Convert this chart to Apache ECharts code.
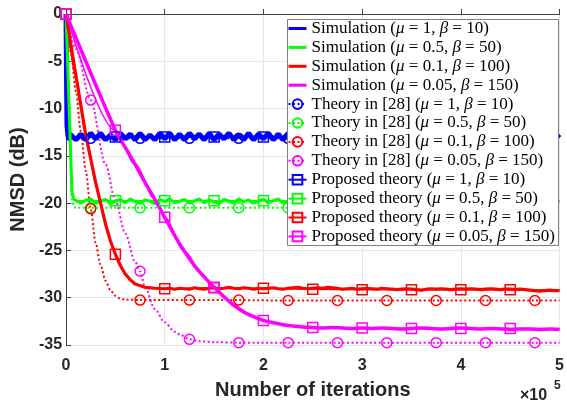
<!DOCTYPE html>
<html>
<head>
    <meta charset="utf-8">
    <title>NMSD</title>
    <script src="https://cdn.jsdelivr.net/npm/echarts@6/dist/echarts.min.js"></script>
    <style>
        html, body { margin: 0; padding: 0; background: #fff; }
    </style>
</head>
<body>
<div id="main" style="width: 567px;height:405px;"></div>
<script type="text/javascript">
    // axis ticks (x in units of 1e5 iterations)
    var xTicks = [0, 1, 2, 3, 4, 5];
    var yTicks = [-35, -30, -25, -20, -15, -10, -5, 0];

    // marker positions
    var circleX = [0.25, 0.75, 1.25, 1.75, 2.25, 2.75, 3.25, 3.75, 4.25, 4.75];
    var squareX = [0, 0.5, 1, 1.5, 2, 2.5, 3, 3.5, 4, 4.5];

    var names = [
        'Simulation (μ = 1, β = 10)',
        'Simulation (μ = 0.5, β = 50)',
        'Simulation (μ = 0.1, β = 100)',
        'Simulation (μ = 0.05, β = 150)',
        'Theory in [28] (μ = 1, β = 10)',
        'Theory in [28] (μ = 0.5, β = 50)',
        'Theory in [28] (μ = 0.1, β = 100)',
        'Theory in [28] (μ = 0.05, β = 150)',
        'Proposed theory (μ = 1, β = 10)',
        'Proposed theory (μ = 0.5, β = 50)',
        'Proposed theory (μ = 0.1, β = 100)',
        'Proposed theory (μ = 0.05, β = 150)'
    ];
    var colors = ['#0000ff', '#00ff00', '#ff0000', '#ff00ff'];

    // simulation curves: transient points, then a noisy tail sampled every 0.05
    var tailStep = 0.05;
    var blueSimHead = [[0, 0], [0.005, -6.5], [0.01, -11.8], [0.02, -12.9], [0.03, -13.3], [0.04, -12.7]];
    var blueSimTailStart = 0.05;
    var blueSimTail = [
        -12.6, -13.3, -12.7, -13.3, -12.6, -13.2, -12.6, -13.3, -12.8, -13.3,
        -12.6, -13.2, -12.7, -13.3, -12.6, -13.3, -12.8, -13.3, -12.6, -13.2,
        -12.6, -13.3, -12.7, -13.3, -12.6, -13.2, -12.7, -13.3, -12.6, -13.3,
        -12.7, -13.2, -12.6, -13.3, -12.8, -13.3, -12.6, -13.3, -12.7, -13.2,
        -12.6, -13.3, -12.7, -13.3, -12.6, -13.2, -12.7, -13.3, -12.6, -13.3,
        -12.7, -13.2, -12.6, -13.3, -12.7, -13.3, -12.6, -13.3, -12.7, -13.2,
        -12.6, -13.3, -12.7, -13.3, -12.6, -13.2, -12.8, -13.3, -12.6, -13.3,
        -12.7, -13.2, -12.6, -13.3, -12.7, -13.3, -12.6, -13.2, -12.7, -13.3,
        -12.6, -13.3, -12.7, -13.2, -12.6, -13.3, -12.6, -13.3, -12.7, -13.2,
        -12.6, -13.3, -12.7, -13.3, -12.6, -13.2, -12.7, -13.3, -12.6, -13.1
    ];
    var greenSimHead = [[0, 0], [0.02, -6.3], [0.04, -12.5], [0.06, -18.8], [0.08, -19.6]];
    var greenSimTailStart = 0.1;
    var greenSimTail = [
        -19.6, -20.0, -19.7, -19.55, -20.0, -19.8, -19.6, -20.05, -19.8, -19.6,
        -19.95, -19.55, -19.85, -20.0, -19.65, -19.8, -20.05, -19.6, -19.85, -19.55,
        -19.95, -19.8, -19.6, -20.0, -19.75, -19.55, -19.95, -19.65, -19.85, -20.05,
        -19.6, -19.8, -20.0, -19.55, -19.85, -19.65, -20.0, -19.75, -19.6, -19.95,
        -19.75, -19.55, -20.0, -19.8, -19.6, -19.95, -19.75, -19.6, -20.0, -19.8,
        -19.6, -19.95, -19.8, -19.55, -20.0, -19.75, -19.6, -19.95, -19.8, -19.65,
        -20.0, -19.75, -19.6, -19.95, -19.8, -19.55, -20.0, -19.8, -19.65, -19.95,
        -19.75, -19.6, -20.0, -19.8, -19.55, -19.95, -19.8, -19.65, -20.0, -19.75,
        -19.6, -19.95, -19.8, -19.65, -20.0, -19.8, -19.55, -19.95, -19.8, -19.65,
        -20.0, -19.8, -19.65, -19.95, -19.8, -19.7, -20.0, -19.8, -19.85
    ];
    var redSimHead = [[0, 0], [0.1, -6.5], [0.2, -12.8], [0.3, -17.8], [0.35, -20.0], [0.4, -22.2],
        [0.45, -24.0], [0.5, -25.4], [0.55, -26.6], [0.6, -27.5], [0.65, -28.1], [0.7, -28.55],
        [0.8, -28.9], [0.9, -29.0], [1.0, -29.05]];
    var redSimTailStart = 1.05;
    var redSimTail = [
        -29.0, -29.1, -29.0, -29.05, -29.1, -28.95, -29.05, -29.1, -29.0, -28.95,
        -29.05, -29.0, -28.9, -29.0, -29.05, -28.95, -29.0, -29.1, -29.0, -29.05,
        -29.0, -28.95, -29.05, -29.1, -29.0, -28.95, -28.9, -29.0, -29.05, -29.0,
        -28.95, -29.0, -28.9, -28.95, -29.0, -29.1, -29.05, -29.0, -29.1, -29.05,
        -29.0, -29.05, -29.1, -29.0, -29.05, -29.1, -29.15, -29.1, -29.05, -29.1,
        -29.15, -29.2, -29.1, -29.05, -29.1, -29.05, -29.1, -29.15, -29.1, -29.05,
        -29.1, -29.05, -29.1, -29.15, -29.1, -29.05, -29.1, -29.15, -29.1, -29.1,
        -29.15, -29.1, -29.15, -29.2, -29.25, -29.3, -29.25, -29.2, -29.25, -29.25
    ];
    var magentaSim = [[0, 0], [0.5, -12.3], [0.6, -14.1], [0.7, -15.9], [0.8, -17.8], [0.9, -19.6],
        [1.0, -21.5], [1.1, -23.4], [1.2, -25.1], [1.3, -26.6], [1.4, -27.8], [1.5, -28.9],
        [1.6, -29.9], [1.7, -30.8], [1.8, -31.5], [1.9, -32.0], [2.0, -32.4], [2.1, -32.65],
        [2.2, -32.85], [2.3, -33.0], [2.4, -33.1], [2.5, -33.15], [2.6, -33.2], [2.7, -33.15],
        [2.8, -33.2], [2.9, -33.25], [3.0, -33.2], [3.1, -33.25], [3.2, -33.2], [3.3, -33.25],
        [3.4, -33.3], [3.5, -33.25], [3.6, -33.2], [3.7, -33.25], [3.8, -33.3], [3.9, -33.25],
        [4.0, -33.2], [4.1, -33.25], [4.2, -33.3], [4.3, -33.25], [4.4, -33.3], [4.5, -33.35],
        [4.6, -33.3], [4.7, -33.3], [4.8, -33.35], [4.9, -33.3], [5.0, -33.35]];

    // theory in [28] (dotted, circles)
    var blueTheory = [[0, 0], [0.01, -12.6], [0.02, -13.15], [0.25, -13.15], [0.75, -13.15], [1.25, -13.15],
        [1.75, -13.15], [2.25, -13.15], [2.75, -13.15], [3.25, -13.15], [3.75, -13.15], [4.25, -13.15],
        [4.75, -13.15], [5, -13.15]];
    var greenTheory = [[0, 0], [0.02, -7], [0.04, -14], [0.06, -19.6], [0.08, -20.4], [0.1, -20.5],
        [0.25, -20.5], [0.75, -20.5], [1.25, -20.5], [1.75, -20.5], [2.25, -20.5], [2.75, -20.5],
        [3.25, -20.5], [3.75, -20.5], [4.25, -20.5], [4.75, -20.5], [5, -20.5]];
    var redTheory = [[0, 0], [0.05, -4.1], [0.1, -8.2], [0.15, -12.4], [0.2, -16.6], [0.25, -20.6],
        [0.3, -24.2], [0.35, -26.5], [0.4, -28.2], [0.45, -29.2], [0.5, -29.8], [0.55, -30.1],
        [0.6, -30.2], [0.75, -30.25], [1.25, -30.25], [1.75, -30.25], [2.25, -30.3], [2.75, -30.3],
        [3.25, -30.3], [3.75, -30.3], [4.25, -30.3], [4.75, -30.3], [5, -30.3]];
    var magentaTheory = [[0, 0], [0.1, -3.7], [0.25, -9.1], [0.4, -15.9], [0.5, -19.7], [0.6, -23.2],
        [0.7, -26.2], [0.75, -27.2], [0.8, -28.9], [0.9, -31.2], [1.0, -32.6], [1.1, -33.6],
        [1.17, -34.0], [1.25, -34.4], [1.35, -34.6], [1.5, -34.7], [1.75, -34.75], [2.25, -34.75],
        [2.75, -34.75], [3.25, -34.75], [3.75, -34.75], [4.25, -34.75], [4.75, -34.75], [5, -34.75]];

    // proposed theory (solid, squares)
    var blueProp = [[0, 0], [0.01, -12.5], [0.02, -13.0], [0.5, -13.0], [1, -13.0], [1.5, -13.0], [2, -13.0],
        [2.5, -13.0], [3, -13.0], [3.5, -13.0], [4, -13.0], [4.5, -13.0], [5, -13.0]];
    var greenProp = [[0, 0], [0.04, -12.5], [0.06, -18.8], [0.08, -19.6], [0.1, -19.75], [0.5, -19.75],
        [1, -19.75], [1.5, -19.75], [2, -19.75], [2.5, -19.75], [3, -19.8], [3.5, -19.8], [4, -19.8],
        [4.5, -19.8], [5, -19.8]];
    var redProp = [[0, 0], [0.1, -6.5], [0.2, -12.8], [0.3, -17.8], [0.35, -20.0], [0.4, -22.2],
        [0.45, -24.0], [0.5, -25.4], [0.6, -27.5], [0.7, -28.55], [0.8, -28.9], [0.9, -29.0],
        [1, -29.05], [1.5, -28.95], [2, -29.0], [2.5, -29.1], [3, -29.15], [3.5, -29.15],
        [4, -29.15], [4.5, -29.15], [5, -29.2]];
    var magentaProp = [[0, 0], [0.5, -12.3], [0.7, -15.9], [0.9, -19.6], [1, -21.5], [1.2, -25.1],
        [1.4, -27.8], [1.5, -28.9], [1.7, -30.8], [1.9, -32.0], [2, -32.4], [2.25, -32.95],
        [2.5, -33.15], [3, -33.2], [3.5, -33.25], [4, -33.25], [4.5, -33.25], [5, -33.3]];

    function withTail(head, start, tail) {
        var pts = head.slice();
        for (var i = 0; i < tail.length; i++) {
            pts.push([start + i * tailStep, tail[i]]);
        }
        return pts;
    }

    // only the points at marker positions get a symbol
    function marked(points, marks) {
        return points.map(function (p) {
            var hit = marks.some(function (m) { return Math.abs(m - p[0]) < 1e-9; });
            return hit ? {value: p} : {value: p, symbol: 'none'};
        });
    }

    var simData = [
        withTail(blueSimHead, blueSimTailStart, blueSimTail),
        withTail(greenSimHead, greenSimTailStart, greenSimTail),
        withTail(redSimHead, redSimTailStart, redSimTail),
        magentaSim
    ];
    var theoryData = [blueTheory, greenTheory, redTheory, magentaTheory];
    var propData = [blueProp, greenProp, redProp, magentaProp];

    // theory curves first, simulation lines drawn over them (legend keeps its own order)
    var series = [];
    for (var k = 0; k < 4; k++) {
        series.push({
            name: names[4 + k], type: 'line', data: marked(theoryData[k], circleX),
            symbol: 'circle', symbolSize: 10, smooth: 0.3, smoothMonotone: 'x',
            itemStyle: {color: 'rgba(0,0,0,0)', borderColor: colors[k], borderWidth: 1.5},
            lineStyle: {color: colors[k], width: 2, type: [2, 2.5]}
        });
    }
    for (var k = 0; k < 4; k++) {
        series.push({
            name: names[8 + k], type: 'line', data: marked(propData[k], squareX),
            symbol: 'rect', symbolSize: 10, smooth: 0.3, smoothMonotone: 'x',
            itemStyle: {color: 'rgba(0,0,0,0)', borderColor: colors[k], borderWidth: 1.5},
            lineStyle: {color: colors[k], width: 1.5}
        });
    }
    var simWidth = [5, 3, 3.2, 3.5];
    for (var k = 0; k < 4; k++) {
        series.push({
            name: names[k], type: 'line', data: simData[k],
            symbol: 'circle', showSymbol: false, smooth: k === 3 ? 0.3 : false,
            itemStyle: {color: 'rgba(0,0,0,0)', borderWidth: 0},
            lineStyle: {color: colors[k], width: simWidth[k]}
        });
    }

    // legend entries; simulation lines all shown at the same thickness
    var legendData = names.map(function (n, i) {
        return i < 4 ? {name: n, lineStyle: {width: 3}} : {name: n};
    });

    var myChart = echarts.init(document.getElementById('main'));
    var tickFont = {fontFamily: 'Liberation Sans', fontWeight: 'bold', fontSize: 16, color: '#262626'};
    var option = {
        animation: false,
        backgroundColor: '#fff',
        grid: {left: 63, right: 4, top: 14, bottom: 59},
        xAxis: {
            type: 'value', min: xTicks[0], max: xTicks[xTicks.length - 1], interval: 1,
            name: 'Number of iterations', nameLocation: 'middle', nameGap: 35,
            nameTextStyle: {fontFamily: 'Liberation Sans', fontWeight: 'bold', fontSize: 20, color: '#262626'},
            axisLine: {lineStyle: {color: '#404040', width: 1}},
            axisTick: {inside: true, length: 5, lineStyle: {color: '#404040'}},
            axisLabel: Object.assign({margin: 13}, tickFont),
            splitLine: {lineStyle: {color: '#e6e6e6', width: 1}}
        },
        yAxis: {
            type: 'value', min: yTicks[0], max: yTicks[yTicks.length - 1], interval: 5,
            name: 'NMSD (dB)', nameLocation: 'middle', nameGap: 37, nameRotate: 90,
            nameTextStyle: {fontFamily: 'Liberation Sans', fontWeight: 'bold', fontSize: 20, color: '#262626'},
            axisLine: {lineStyle: {color: '#404040', width: 1}},
            axisTick: {inside: true, length: 5, lineStyle: {color: '#404040'}},
            axisLabel: Object.assign({margin: 4}, tickFont),
            splitLine: {lineStyle: {color: '#e6e6e6', width: 1}}
        },
        legend: {
            orient: 'vertical', left: 287, top: 20, padding: 0, z: 5,
            itemWidth: 18, itemHeight: 12, itemGap: 1.9,
            data: legendData,
            formatter: function (n) { return n.replace(/([μβ])/g, '{m|$1}'); },
            textStyle: {
                fontFamily: 'Liberation Serif', fontSize: 17, color: '#000',
                rich: {m: {fontFamily: 'Liberation Serif', fontSize: 17, fontStyle: 'italic'}}
            }
        },
        graphic: [
            {type: 'rect', left: 287, top: 19, z: 4, shape: {width: 271, height: 226},
                style: {fill: '#fff', stroke: '#808080', lineWidth: 1}},
            {type: 'text', left: 520, top: 388, z: 4,
                style: {text: '×10', font: 'bold 16px Liberation Sans', fill: '#262626'}},
            {type: 'text', left: 554, top: 380, z: 4,
                style: {text: '5', font: 'bold 12px Liberation Sans', fill: '#262626'}}
        ],
        series: series
    };
    myChart.setOption(option);
</script>
</body>
</html>
